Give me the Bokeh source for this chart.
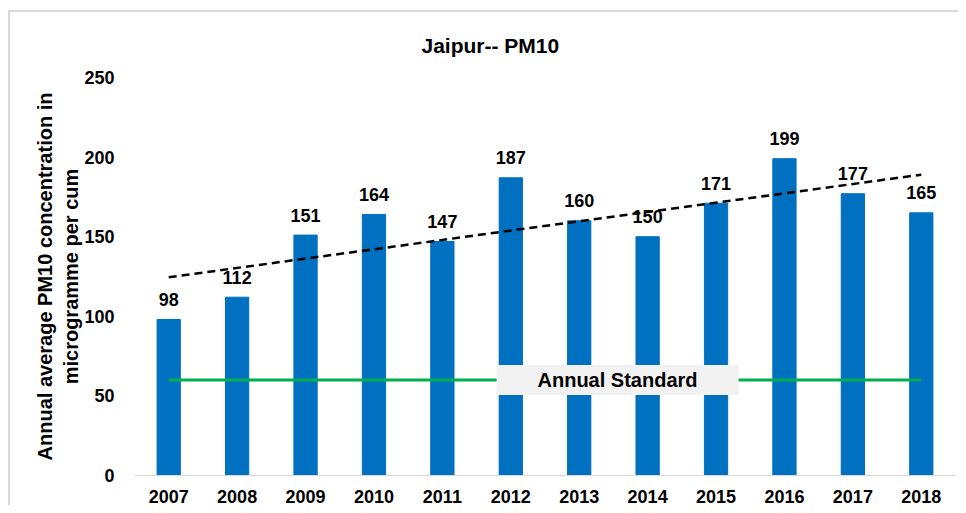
import numpy as np
from bokeh.plotting import figure
from bokeh.models import ColumnDataSource, FactorRange, Range1d, Label, FixedTicker
from bokeh.core.properties import value
from bokeh.embed import file_html
from bokeh.resources import INLINE

# ---- data ----
years = ["2007", "2008", "2009", "2010", "2011", "2012",
         "2013", "2014", "2015", "2016", "2017", "2018"]
pm10 = [98, 112, 151, 164, 147, 187, 160, 150, 171, 199, 177, 165]
annual_standard = 60
y_ticks = [0, 50, 100, 150, 200, 250]
chart_title = "Jaipur-- PM10"
y_label = "Annual average PM10 concentration in\nmicrogramme per cum"
standard_label = "Annual Standard"

# linear trend line fitted to the series
idx = np.arange(len(pm10))
slope, intercept = np.polyfit(idx, pm10, 1)
trend = [intercept, intercept + slope * idx[-1]]

FONT = "Liberation Sans"
BLUE = "#0070c0"
GREEN = "#00b050"
EDGE = "#d9d9d9"

# light grey chart-area border (top and left edges), painted behind a transparent canvas border
bg = (f"linear-gradient({EDGE},{EDGE}) 8px 10px / 950px 2px no-repeat, "
      f"linear-gradient({EDGE},{EDGE}) 8px 10px / 2px 495px no-repeat, white")

p = figure(
    width=958, height=505,
    x_range=FactorRange(*years, range_padding=0),
    y_range=Range1d(0, 250),
    output_backend="svg", toolbar_location=None, title=chart_title,
    min_border_left=134, min_border_right=3,
    min_border_top=77, min_border_bottom=30,
    outline_line_color=None,
    border_fill_color=None,
    background_fill_color="white",
    styles={"background": bg},
)
p.xgrid.visible = False
p.ygrid.visible = False

p.title.align = "left"
p.title.offset = 287
p.title.standoff = 42
p.title.text_font = FONT
p.title.text_font_style = "bold"
p.title.text_font_size = "21px"
p.title.text_color = "black"

src = ColumnDataSource(dict(year=years, val=pm10, lab=[str(v) for v in pm10]))
p.vbar(x="year", top="val", width=0.34, source=src, color=BLUE)

# annual standard line
p.line(x=[years[0], years[-1]], y=[annual_standard, annual_standard],
       line_color=GREEN, line_width=3)

# trend line
p.line(x=[years[0], years[-1]], y=trend, line_color="black", line_width=2.5,
       line_dash="8 5")

# data labels
p.text(x="year", y="val", text="lab", source=src, text_align="center",
       text_baseline="alphabetic", y_offset=-20,
       text_font=value(FONT), text_font_style="bold", text_font_size="18px",
       text_color="black")

# annual standard label
p.add_layout(Label(x=7.06, y=annual_standard, text=standard_label,
                   text_align="center", text_baseline="middle",
                   text_font=FONT, text_font_style="bold", text_font_size="20px",
                   text_color="black",
                   background_fill_color="#f2f2f2", padding=(41, 4)))

# axes
xa = p.xaxis[0]
xa.axis_line_color = EDGE
xa.axis_line_width = 1
xa.major_tick_line_color = None
xa.minor_tick_line_color = None
xa.major_label_standoff = 8
xa.major_label_text_font = FONT
xa.major_label_text_font_style = "bold"
xa.major_label_text_font_size = "18px"
xa.major_label_text_color = "black"

ya = p.yaxis[0]
ya.ticker = FixedTicker(ticks=y_ticks)
ya.axis_line_color = None
ya.major_tick_line_color = None
ya.minor_tick_line_color = None
ya.major_label_standoff = 14
ya.major_label_text_font = FONT
ya.major_label_text_font_style = "bold"
ya.major_label_text_font_size = "18px"
ya.major_label_text_color = "black"
ya.axis_label = y_label
ya.axis_label_standoff = -1
ya.axis_label_text_font = FONT
ya.axis_label_text_font_style = "bold"
ya.axis_label_text_font_size = "20px"
ya.axis_label_text_color = "black"

open("out.html", "w").write(file_html(p, INLINE))
